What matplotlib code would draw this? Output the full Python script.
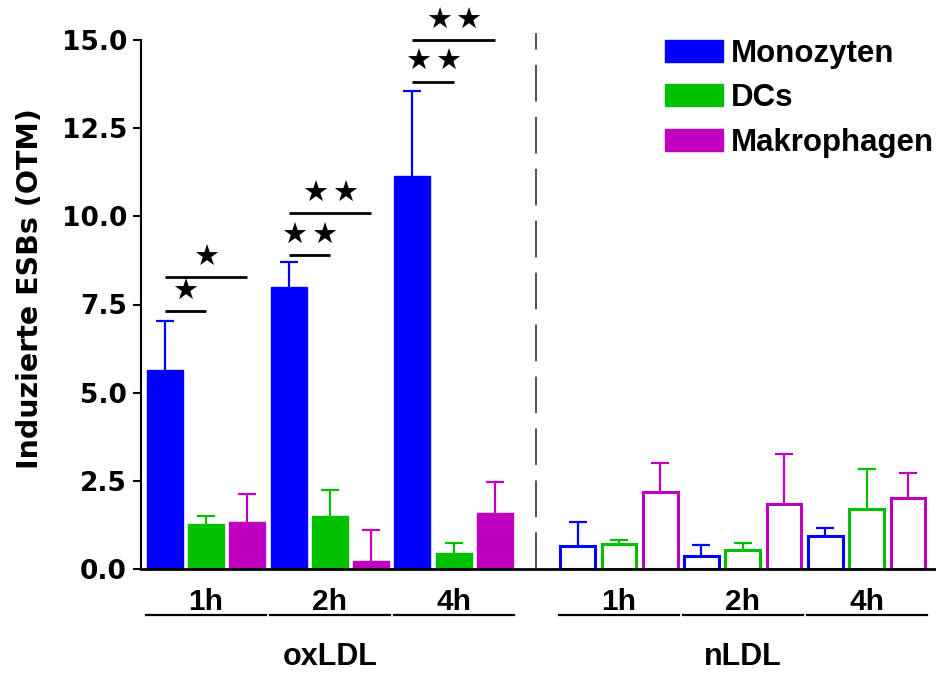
import matplotlib
matplotlib.use("Agg")
import matplotlib.pyplot as plt
from matplotlib.patches import Patch
import numpy as np

# Daten
zeiten = ['1h', '2h', '4h']
behandlungen = ['oxLDL', 'nLDL']
zelltypen = ['Monozyten', 'DCs', 'Makrophagen']
farben = ['#0000FF', '#00C000', '#C000C0']

ox_mono = [5.64, 8.00, 11.14]
ox_mono_err = [1.40, 0.70, 2.42]
ox_dc = [1.27, 1.49, 0.44]
ox_dc_err = [0.24, 0.75, 0.31]
ox_mac = [1.32, 0.22, 1.58]
ox_mac_err = [0.82, 0.89, 0.89]

n_mono = [0.66, 0.38, 0.94]
n_mono_err = [0.67, 0.30, 0.21]
n_dc = [0.72, 0.55, 1.69]
n_dc_err = [0.11, 0.20, 1.15]
n_mac = [2.19, 1.84, 2.01]
n_mac_err = [0.81, 1.43, 0.71]

# Signifikanz: (Balken links, Balken rechts, Höhe, Anzahl Sterne)
sig_links = [0, 0, 3, 3, 6, 6]
sig_rechts = [1, 2, 4, 5, 7, 8]
sig_hoehe = [7.31, 8.27, 8.90, 10.10, 13.82, 15.0]
sig_sterne = [1, 1, 2, 2, 2, 2]

plt.rcParams['font.family'] = ['Liberation Sans', 'DejaVu Sans']
plt.rcParams['font.weight'] = 'bold'

fig = plt.figure(figsize=(9.36, 6.73), dpi=100)
ax = fig.add_axes([141/936, 104/673, 1 - 141/936, 529/673])

breite = 0.87
ox_werte = [ox_mono, ox_dc, ox_mac]
ox_fehler = [ox_mono_err, ox_dc_err, ox_mac_err]
n_werte = [n_mono, n_dc, n_mac]
n_fehler = [n_mono_err, n_dc_err, n_mac_err]


def fehlerbalken(x, y, err, farbe):
    eb = ax.errorbar(x, y, yerr=[np.zeros(len(y)), err], fmt='none', ecolor=farbe,
                     elinewidth=1.6, capsize=6.5, capthick=1.6, zorder=1)
    # untere Kappe weg
    eb[1][0].set_visible(False)


for c in range(3):
    x_ox = np.arange(3) * 3 + c
    x_n = 10 + np.arange(3) * 3 + c
    fehlerbalken(x_ox, ox_werte[c], ox_fehler[c], farben[c])
    ax.bar(x_ox, ox_werte[c], width=breite, color=farben[c], edgecolor=farben[c],
           linewidth=1, zorder=2)
    fehlerbalken(x_n, n_werte[c], n_fehler[c], farben[c])
    ax.bar(x_n, n_werte[c], width=breite - 0.03, facecolor='white', edgecolor=farben[c],
           linewidth=2.2, zorder=2)

# Signifikanzlinien mit Sternen
for x1, x2, h, n in zip(sig_links, sig_rechts, sig_hoehe, sig_sterne):
    ax.plot([x1, x2], [h, h], color='black', lw=2, clip_on=False, solid_capstyle='butt')
    xm = (x1 + x2) / 2
    if n == 1:
        pos = [xm]
    else:
        pos = [xm - 0.36, xm + 0.36]
    for xs in pos:
        ax.text(xs, h + 0.55, '\u2605', ha='center', va='center', fontsize=21,
                family='DejaVu Sans', clip_on=False)

# Trennlinie
ax.plot([9, 9], [0, 15.2], color='#222222', lw=1.1, dashes=(24, 10), clip_on=False)

ax.set_xlim(-0.574, 18.68)
ax.set_ylim(0, 15)
ax.set_yticks([0, 2.5, 5, 7.5, 10, 12.5, 15])
ax.set_yticklabels(['0.0', '2.5', '5.0', '7.5', '10.0', '12.5', '15.0'])
ax.set_xticks([])
for s in ['top', 'right']:
    ax.spines[s].set_visible(False)
ax.spines['left'].set_linewidth(1.5)
ax.spines['bottom'].set_linewidth(2)
ax.tick_params(axis='y', direction='out', length=6, width=1.5, pad=4, labelsize=19)
for lab in ax.get_yticklabels():
    lab.set_family('DejaVu Sans')
    lab.set_fontweight('bold')
ax.set_ylabel('Induzierte ESBs (OTM)', fontsize=20.5, fontweight='bold', family='DejaVu Sans')
ax.yaxis.set_label_coords(-0.122, 0.530)

# Gruppenbeschriftung unten
trans = ax.get_xaxis_transform()
for b, start in enumerate([0, 10]):
    for g, zeit in enumerate(zeiten):
        mitte = start + 3 * g + 1
        ax.text(mitte, -0.0775, zeit, transform=trans, ha='center', va='baseline',
                fontsize=21.5, fontweight='bold')
        ax.plot([mitte - 1.45, mitte + 1.45], [-0.0879, -0.0879], transform=trans,
                color='black', lw=1.6, clip_on=False)
    ax.text(start + 4, -0.1815, behandlungen[b], transform=trans, ha='center', va='baseline',
            fontsize=22, fontweight='bold')

handles = [Patch(facecolor=f, edgecolor=f) for f in farben]
fig.legend(handles, zelltypen, loc='upper left', bbox_to_anchor=(665/936, 1 - 39/673),
           frameon=False, handlelength=1.84, handleheight=0.71,
           handletextpad=0.26, labelspacing=0.46, borderpad=0, borderaxespad=0,
           prop={'weight': 'bold', 'size': 22.5})

fig.savefig('out.png', dpi=100)
